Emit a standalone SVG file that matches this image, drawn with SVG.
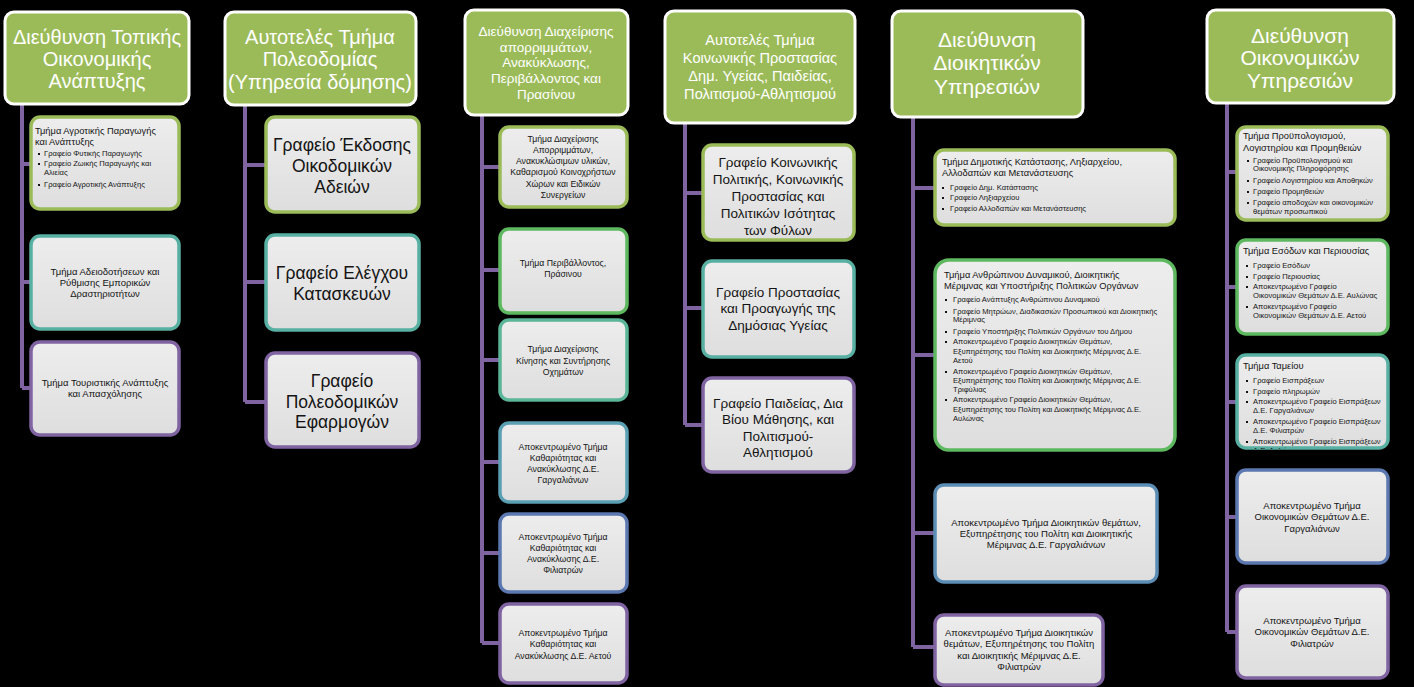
<svg xmlns="http://www.w3.org/2000/svg" width="1414" height="687" viewBox="0 0 1414 687">
<defs>
<linearGradient id="cg" x1="0" y1="0" x2="0" y2="1">
<stop offset="0" stop-color="#EDEDED"/><stop offset="1" stop-color="#DEDEDE"/>
</linearGradient>
<clipPath id="clipT"><rect x="1239" y="357" width="147" height="92" rx="8"/></clipPath>
</defs>
<style>
text{font-family:"Liberation Sans",Arial,sans-serif}
.tb{fill:#9BBB59;stroke:#FFFFFF;stroke-width:3}
.cb{fill:url(#cg);stroke-width:3.5}
.t{fill:#FFFFFF;text-anchor:middle}
.c{fill:#141414;text-anchor:middle}
.f9{font-size:9.5px}.f84{font-size:8.7px}.f135{font-size:13.5px}.f175{font-size:17.5px}
.h{fill:#141414;font-size:9.3px}
.s{fill:#141414;font-size:7.6px}
.bu{fill:#141414}
.k{stroke:#8064A2;stroke-width:4;fill:none}
.g1{stroke:#9BBB59}.g2{stroke:#5DB85F}.g3{stroke:#5BB598}.g4{stroke:#5B9FB2}.g5{stroke:#5B78B0}.g6{stroke:#8064A2}.gt{stroke:#58B0A2}.gb{stroke:#5B8DB5}
</style>
<rect width="1414" height="687" fill="#000000"/>

<g id="connectors">
<path class="k" d="M22 105V388M22 164H31M22 282H31M22 388H31"/>
<path class="k" d="M245 105V402M245 165H266M245 282H266M245 402H266"/>
<path class="k" d="M482 115V643M482 167H500M482 270H500M482 360H500M482 462H500M482 553H500M482 643H500"/>
<path class="k" d="M685 123V425M685 193H703M685 308H703M685 425H703"/>
<path class="k" d="M913 117V647M913 188H935M913 355H935M913 533H935M913 647H935"/>
<path class="k" d="M1227 103V632M1227 172H1237M1227 287H1237M1227 402H1237M1227 517H1237M1227 632H1237"/>
</g>

<!-- Column 1 -->
<g id="n1">
<rect class="tb" x="5" y="12" width="184" height="92" rx="9"/>
<text class="t" font-size="20" x="97"><tspan x="97" y="44">Διεύθυνση Τοπικής</tspan><tspan x="97" y="66">Οικονομικής</tspan><tspan x="97" y="88">Ανάπτυξης</tspan></text>
</g>
<g id="n1a">
<rect class="cb g1" x="31" y="117" width="148" height="92" rx="9"/>
<text class="h" x="35"><tspan x="35" y="134">Τμήμα Αγροτικής  Παραγωγής</tspan><tspan x="35" y="145">και Ανάπτυξης</tspan></text>
<rect class="bu" x="38" y="153" width="2" height="2"/><rect class="bu" x="38" y="163" width="2" height="2"/><rect class="bu" x="38" y="184" width="2" height="2"/>
<text class="s" x="44"><tspan x="44" y="156">Γραφείο Φυτικής  Παραγωγής</tspan><tspan x="44" y="166">Γραφείο Ζωικής Παραγωγής και</tspan><tspan x="44" y="175">Αλιείας</tspan><tspan x="44" y="187">Γραφείο Αγροτικής Ανάπτυξης</tspan></text>
</g>
<g id="n1b">
<rect class="cb gt" x="31" y="236" width="148" height="93" rx="9"/>
<text class="c f9" x="105"><tspan x="105" y="275">Τμήμα Αδειοδοτήσεων  και</tspan><tspan x="105" y="286">Ρύθμισης  Εμπορικών</tspan><tspan x="105" y="297">Δραστηριοτήτων</tspan></text>
</g>
<g id="n1c">
<rect class="cb g6" x="31" y="342" width="148" height="93" rx="9"/>
<text class="c f9" x="105"><tspan x="105" y="386">Τμήμα Τουριστικής  Ανάπτυξης</tspan><tspan x="105" y="397">και Απασχόλησης</tspan></text>
</g>

<!-- Column 2 -->
<g id="n2">
<rect class="tb" x="225" y="12" width="191" height="93" rx="9"/>
<text class="t" font-size="20" x="320"><tspan x="320" y="44">Αυτοτελές Τμήμα</tspan><tspan x="320" y="66">Πολεοδομίας</tspan><tspan x="320" y="89">(Υπηρεσία δόμησης)</tspan></text>
</g>
<g id="n2a">
<rect class="cb g1" x="266" y="117" width="153" height="95" rx="9"/>
<text class="c f175" x="342"><tspan x="342" y="151">Γραφείο Έκδοσης</tspan><tspan x="342" y="172">Οικοδομικών</tspan><tspan x="342" y="193">Αδειών</tspan></text>
</g>
<g id="n2b">
<rect class="cb gt" x="266" y="235" width="153" height="95" rx="9"/>
<text class="c f175" x="342"><tspan x="342" y="279">Γραφείο Ελέγχου</tspan><tspan x="342" y="300">Κατασκευών</tspan></text>
</g>
<g id="n2c">
<rect class="cb g6" x="266" y="353" width="153" height="94" rx="9"/>
<text class="c f175" x="342"><tspan x="342" y="387">Γραφείο</tspan><tspan x="342" y="408">Πολεοδομικών</tspan><tspan x="342" y="428">Εφαρμογών</tspan></text>
</g>

<!-- Column 3 -->
<g id="n3">
<rect class="tb" x="465" y="10" width="163" height="105" rx="9"/>
<text class="t" font-size="13.5" x="546"><tspan x="546" y="36">Διεύθυνση Διαχείρισης</tspan><tspan x="546" y="52">απορριμμάτων,</tspan><tspan x="546" y="67">Ανακύκλωσης,</tspan><tspan x="546" y="83">Περιβάλλοντος και</tspan><tspan x="546" y="99">Πρασίνου</tspan></text>
</g>
<g id="n3a">
<rect class="cb g1" x="500" y="127" width="127" height="80" rx="9"/>
<text class="c f84" x="563"><tspan x="563" y="142">Τμήμα Διαχείρισης</tspan><tspan x="563" y="153">Απορριμμάτων,</tspan><tspan x="563" y="164">Ανακυκλώσιμων υλικών,</tspan><tspan x="563" y="175">Καθαρισμού  Κοινοχρήστων</tspan><tspan x="563" y="187">Χώρων  και Ειδικών</tspan><tspan x="563" y="198">Συνεργείων</tspan></text>
</g>
<g id="n3b">
<rect class="cb g2" x="500" y="229" width="127" height="84" rx="9"/>
<text class="c f84" x="563"><tspan x="563" y="266">Τμήμα Περιβάλλοντος,</tspan><tspan x="563" y="277">Πράσινου</tspan></text>
</g>
<g id="n3c">
<rect class="cb g3" x="500" y="320" width="127" height="80" rx="9"/>
<text class="c f84" x="563"><tspan x="563" y="352">Τμήμα Διαχείρισης</tspan><tspan x="563" y="364">Κίνησης  και Συντήρησης</tspan><tspan x="563" y="375">Οχημάτων</tspan></text>
</g>
<g id="n3d">
<rect class="cb g4" x="500" y="423" width="127" height="79" rx="9"/>
<text class="c f84" x="563"><tspan x="563" y="450">Αποκεντρωμένο Τμήμα</tspan><tspan x="563" y="461">Καθαριότητας  και</tspan><tspan x="563" y="472">Ανακύκλωσης  Δ.Ε.</tspan><tspan x="563" y="483">Γαργαλιάνων</tspan></text>
</g>
<g id="n3e">
<rect class="cb g5" x="500" y="514" width="127" height="78" rx="9"/>
<text class="c f84" x="563"><tspan x="563" y="540">Αποκεντρωμένο Τμήμα</tspan><tspan x="563" y="551">Καθαριότητας  και</tspan><tspan x="563" y="562">Ανακύκλωσης  Δ.Ε.</tspan><tspan x="563" y="573">Φιλιατρών</tspan></text>
</g>
<g id="n3f">
<rect class="cb g6" x="500" y="604" width="127" height="79" rx="9"/>
<text class="c f84" x="563"><tspan x="563" y="636">Αποκεντρωμένο Τμήμα</tspan><tspan x="563" y="647">Καθαριότητας  και</tspan><tspan x="563" y="659">Ανακύκλωσης  Δ.Ε. Αετού</tspan></text>
</g>

<!-- Column 4 -->
<g id="n4">
<rect class="tb" x="665" y="11" width="190" height="112" rx="9"/>
<text class="t" font-size="14.6" x="760"><tspan x="760" y="45">Αυτοτελές Τμήμα</tspan><tspan x="760" y="63">Κοινωνικής Προστασίας</tspan><tspan x="760" y="81">Δημ. Υγείας, Παιδείας,</tspan><tspan x="760" y="99">Πολιτισμού-Αθλητισμού</tspan></text>
</g>
<g id="n4a">
<rect class="cb g1" x="703" y="145" width="151" height="95" rx="9"/>
<text class="c f135" x="778"><tspan x="778" y="167">Γραφείο Κοινωνικής</tspan><tspan x="778" y="184">Πολιτικής, Κοινωνικής</tspan><tspan x="778" y="201">Προστασίας και</tspan><tspan x="778" y="218">Πολιτικών Ισότητας</tspan><tspan x="778" y="235">των Φύλων</tspan></text>
</g>
<g id="n4b">
<rect class="cb gt" x="703" y="261" width="151" height="96" rx="9"/>
<text class="c f135" x="778"><tspan x="778" y="297">Γραφείο Προστασίας</tspan><tspan x="778" y="313">και Προαγωγής της</tspan><tspan x="778" y="330">Δημόσιας Υγείας</tspan></text>
</g>
<g id="n4c">
<rect class="cb g6" x="703" y="378" width="151" height="94" rx="9"/>
<text class="c f135" x="778"><tspan x="778" y="408">Γραφείο Παιδείας, Δια</tspan><tspan x="778" y="424">Βίου Μάθησης, και</tspan><tspan x="778" y="441">Πολιτισμού-</tspan><tspan x="778" y="457">Αθλητισμού</tspan></text>
</g>

<!-- Column 5 -->
<g id="n5">
<rect class="tb" x="892" y="11" width="191" height="106" rx="9"/>
<text class="t" font-size="21" x="987"><tspan x="987" y="47">Διεύθυνση</tspan><tspan x="987" y="70">Διοικητικών</tspan><tspan x="987" y="94">Υπηρεσιών</tspan></text>
</g>
<g id="n5a">
<rect class="cb g1" x="935" y="150" width="240" height="75" rx="9"/>
<text class="h" x="942"><tspan x="942" y="165">Τμήμα Δημοτικής  Κατάστασης,  Ληξιαρχείου,</tspan><tspan x="942" y="176">Αλλοδαπών  και Μετανάστευσης</tspan></text>
<rect class="bu" x="942" y="187" width="2" height="2"/><rect class="bu" x="942" y="197" width="2" height="2"/><rect class="bu" x="942" y="208" width="2" height="2"/>
<text class="s" x="950"><tspan x="950" y="190">Γραφείο Δημ. Κατάστασης</tspan><tspan x="950" y="200">Γραφείο Ληξιαρχείου</tspan><tspan x="950" y="211">Γραφείο Αλλοδαπών και Μετανάστευσης</tspan></text>
</g>
<g id="n5b">
<rect class="cb g2" x="935" y="260" width="240" height="190" rx="14"/>
<text class="h" x="944"><tspan x="944" y="278">Τμήμα Ανθρώπινου  Δυναμικού, Διοικητικής</tspan><tspan x="944" y="289">Μέριμνας και Υποστήριξης  Πολιτικών  Οργάνων</tspan></text>
<rect class="bu" x="945" y="299" width="2" height="2"/><rect class="bu" x="945" y="311" width="2" height="2"/><rect class="bu" x="945" y="331" width="2" height="2"/><rect class="bu" x="945" y="341" width="2" height="2"/><rect class="bu" x="945" y="371" width="2" height="2"/><rect class="bu" x="945" y="399" width="2" height="2"/>
<text class="s" x="953"><tspan x="953" y="302">Γραφείο Ανάπτυξης  Ανθρώπινου Δυναμικού</tspan><tspan x="953" y="314">Γραφείο Μητρώων, Διαδικασιών Προσωπικού  και Διοικητικής</tspan><tspan x="953" y="322">Μέριμνας</tspan><tspan x="953" y="334">Γραφείο Υποστήριξης   Πολιτικών Οργάνων του Δήμου</tspan><tspan x="953" y="344">Αποκεντρωμένο Γραφείο Διοικητικών Θεμάτων,</tspan><tspan x="953" y="354">Εξυπηρέτησης  του Πολίτη και Διοικητικής  Μέριμνας Δ.Ε.</tspan><tspan x="953" y="363">Αετού</tspan><tspan x="953" y="374">Αποκεντρωμένο Γραφείο Διοικητικών Θεμάτων,</tspan><tspan x="953" y="383">Εξυπηρέτησης  του Πολίτη και Διοικητικής  Μέριμνας Δ.Ε.</tspan><tspan x="953" y="392">Τριφύλιας</tspan><tspan x="953" y="402">Αποκεντρωμένο Γραφείο Διοικητικών Θεμάτων,</tspan><tspan x="953" y="412">Εξυπηρέτησης  του Πολίτη και Διοικητικής  Μέριμνας Δ.Ε.</tspan><tspan x="953" y="421">Αυλώνας</tspan></text>
</g>
<g id="n5c">
<rect class="cb gb" x="935" y="485" width="222" height="97" rx="9"/>
<text class="c f9" x="1046"><tspan x="1046" y="526">Αποκεντρωμένο  Τμήμα Διοικητικών  θεμάτων,</tspan><tspan x="1046" y="537">Εξυπηρέτησης  του  Πολίτη  και Διοικητικής</tspan><tspan x="1046" y="548">Μέριμνας Δ.Ε. Γαργαλιάνων</tspan></text>
</g>
<g id="n5d">
<rect class="cb g6" x="935" y="615" width="168" height="70" rx="9"/>
<text class="c f9" x="1019"><tspan x="1019" y="636">Αποκεντρωμένο Τμήμα Διοικητικών</tspan><tspan x="1019" y="647">θεμάτων, Εξυπηρέτησης  του Πολίτη</tspan><tspan x="1019" y="659">και Διοικητικής Μέριμνας Δ.Ε.</tspan><tspan x="1019" y="670">Φιλιατρών</tspan></text>
</g>

<!-- Column 6 -->
<g id="n6">
<rect class="tb" x="1207" y="10" width="187" height="93" rx="9"/>
<text class="t" font-size="21" x="1300"><tspan x="1300" y="43">Διεύθυνση</tspan><tspan x="1300" y="65">Οικονομικών</tspan><tspan x="1300" y="88">Υπηρεσιών</tspan></text>
</g>
<g id="n6a">
<rect class="cb g1" x="1237" y="127" width="151" height="93" rx="9"/>
<text class="h" x="1243"><tspan x="1243" y="139">Τμήμα Προϋπολογισμού,</tspan><tspan x="1243" y="151">Λογιστηρίου   και Προμηθειών</tspan></text>
<rect class="bu" x="1247" y="160" width="2" height="2"/><rect class="bu" x="1247" y="180" width="2" height="2"/><rect class="bu" x="1247" y="191" width="2" height="2"/><rect class="bu" x="1247" y="202" width="2" height="2"/>
<text class="s" x="1253"><tspan x="1253" y="163">Γραφείο Προϋπολογισμού   και</tspan><tspan x="1253" y="171">Οικονομικής  Πληροφόρησης</tspan><tspan x="1253" y="183">Γραφείο Λογιστηρίου  και Αποθηκών</tspan><tspan x="1253" y="194">Γραφείο Προμηθειών</tspan><tspan x="1253" y="205">Γραφείο αποδοχών  και οικονομικών</tspan><tspan x="1253" y="214">θεμάτων προσωπικού</tspan></text>
</g>
<g id="n6b">
<rect class="cb g2" x="1237" y="240" width="151" height="94" rx="9"/>
<text class="h" x="1243" y="254">Τμήμα Εσόδων  και Περιουσίας</text>
<rect class="bu" x="1246" y="265" width="2" height="2"/><rect class="bu" x="1246" y="276" width="2" height="2"/><rect class="bu" x="1246" y="286" width="2" height="2"/><rect class="bu" x="1246" y="306" width="2" height="2"/>
<text class="s" x="1253"><tspan x="1253" y="268">Γραφείο Εσόδων</tspan><tspan x="1253" y="279">Γραφείο Περιουσίας</tspan><tspan x="1253" y="289">Αποκεντρωμένο Γραφείο</tspan><tspan x="1253" y="298">Οικονομικών  Θεμάτων Δ.Ε. Αυλώνας</tspan><tspan x="1253" y="309">Αποκεντρωμένο Γραφείο</tspan><tspan x="1253" y="318">Οικονομικών  Θεμάτων Δ.Ε. Αετού</tspan></text>
</g>
<g id="n6c">
<rect class="cb gt" x="1237" y="355" width="151" height="93" rx="9"/>
<text class="h" x="1243" y="369">Τμήμα Ταμείου</text>
<g clip-path="url(#clipT)">
<rect class="bu" x="1246" y="380" width="2" height="2"/><rect class="bu" x="1246" y="391" width="2" height="2"/><rect class="bu" x="1246" y="401" width="2" height="2"/><rect class="bu" x="1246" y="421" width="2" height="2"/><rect class="bu" x="1246" y="441" width="2" height="2"/>
<text class="s" x="1253"><tspan x="1253" y="383">Γραφείο Εισπράξεων</tspan><tspan x="1253" y="394">Γραφείο πληρωμών</tspan><tspan x="1253" y="404">Αποκεντρωμένο Γραφείο Εισπράξεων</tspan><tspan x="1253" y="413">Δ.Ε. Γαργαλιάνων</tspan><tspan x="1253" y="424">Αποκεντρωμένο Γραφείο Εισπράξεων</tspan><tspan x="1253" y="433">Δ.Ε. Φιλιατρών</tspan><tspan x="1253" y="444">Αποκεντρωμένο Γραφείο Εισπράξεων</tspan><tspan x="1253" y="453">Δ.Ε. Αυλώνας</tspan></text>
</g>
</g>
<g id="n6d">
<rect class="cb g5" x="1237" y="470" width="151" height="93" rx="9"/>
<text class="c f9" x="1312"><tspan x="1312" y="509">Αποκεντρωμένο Τμήμα</tspan><tspan x="1312" y="520">Οικονομικών  Θεμάτων Δ.Ε.</tspan><tspan x="1312" y="532">Γαργαλιάνων</tspan></text>
</g>
<g id="n6e">
<rect class="cb g6" x="1237" y="586" width="151" height="92" rx="9"/>
<text class="c f9" x="1312"><tspan x="1312" y="624">Αποκεντρωμένο Τμήμα</tspan><tspan x="1312" y="635">Οικονομικών  Θεμάτων Δ.Ε.</tspan><tspan x="1312" y="647">Φιλιατρών</tspan></text>
</g>
</svg>
